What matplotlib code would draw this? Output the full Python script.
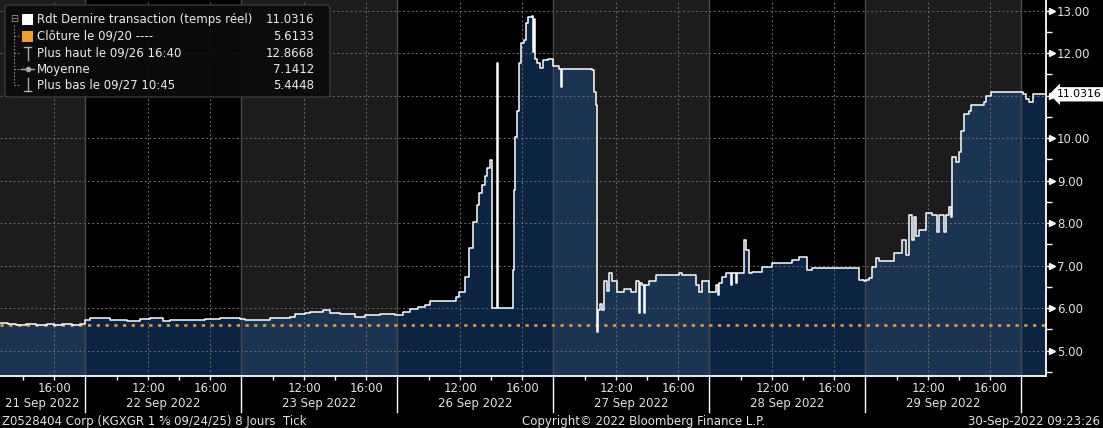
import matplotlib
matplotlib.use('Agg')
import matplotlib.pyplot as plt
import matplotlib.transforms as mtransforms
from matplotlib.patches import Rectangle, FancyBboxPatch
import numpy as np

# --- données (rendement, ticks par séance) ---
days = ['21 Sep 2022', '22 Sep 2022', '23 Sep 2022', '26 Sep 2022',
        '27 Sep 2022', '28 Sep 2022', '29 Sep 2022', '30 Sep 2022']

t21 = ['12:20', '13:00', '13:30', '14:10', '14:50', '15:30', '16:00', '16:30', '17:10', '17:40']
v21 = [5.65, 5.63, 5.61, 5.63, 5.61, 5.62, 5.60, 5.62, 5.61, 5.62]

t22 = ['07:55', '08:13', '08:52', '09:31', '10:37', '11:27', '12:06', '12:56', '13:23', '14:02',
       '15:19', '15:38', '16:36', '17:54']
v22 = [5.72, 5.77, 5.76, 5.73, 5.70, 5.75, 5.76, 5.70, 5.72, 5.73, 5.73, 5.75, 5.76, 5.75]

t23 = ['07:55', '08:10', '09:46', '11:04', '11:23', '12:02', '12:21', '13:11', '13:38', '14:17',
       '15:15', '15:54', '16:52', '17:50']
v23 = [5.75, 5.73, 5.77, 5.79, 5.86, 5.88, 5.92, 5.96, 5.88, 5.86, 5.80, 5.85, 5.86, 5.83]

t26 = ['07:55', '08:17', '08:44', '09:15', '09:42', '10:02', '11:00', '11:38', '11:42', '11:54',
       '12:17', '12:33', '12:48', '13:04', '13:11', '13:23', '13:35', '13:45', '13:54', '14:02',
       '14:17', '14:21', '14:25', '15:20', '15:24', '15:28', '15:31', '15:39', '15:47', '15:55',
       '16:07', '16:15', '16:22', '16:38', '16:42', '16:46', '16:50', '16:58', '17:10', '17:22', '17:41']
v26 = [5.84, 5.90, 5.98, 6.02, 6.08, 6.16, 6.18, 6.16, 6.27, 6.39,
       6.74, 7.42, 8.03, 8.43, 8.70, 8.90, 9.10, 9.30, 9.48, 6.00,
       6.00, 11.76, 6.00, 6.00, 6.90, 8.78, 10.03, 10.65, 11.76, 12.23,
       12.30, 12.70, 12.85, 12.8668, 12.02, 12.80, 11.87, 11.76, 11.64, 11.83, 11.87]

t27 = ['07:55', '08:17', '08:25', '08:29', '09:35', '10:25', '10:33', '10:40', '10:45', '10:48',
       '10:56', '11:04', '11:11', '11:23', '11:31', '11:42', '12:02', '12:30', '12:56', '13:15',
       '13:27', '13:31', '13:38', '13:46', '13:50', '14:06', '14:33', '15:50', '16:02', '16:14',
       '16:53', '17:08', '17:20', '17:31']
v27 = [11.69, 11.63, 11.20, 11.63, 11.62, 11.61, 11.08, 10.77, 5.4448, 5.96,
       6.10, 5.96, 6.63, 6.40, 6.82, 6.63, 6.39, 6.45, 6.39, 6.63,
       5.89, 6.60, 6.55, 5.89, 6.55, 6.63, 6.78, 6.78, 6.83, 6.78,
       6.78, 6.55, 6.39, 6.63]

t28 = ['07:55', '08:21', '08:30', '08:35', '08:44', '09:00', '09:20', '09:25', '09:40', '09:45',
       '10:02', '10:10', '10:17', '10:29', '10:41', '11:19', '11:58', '13:15', '13:42', '14:09',
       '14:13', '14:33', '16:56', '17:35', '17:54']
v28 = [6.39, 6.55, 6.30, 6.60, 6.74, 6.82, 6.55, 6.82, 6.60, 6.82,
       6.82, 7.60, 7.37, 6.82, 6.86, 6.98, 7.06, 7.14, 7.21, 7.21,
       6.90, 6.94, 6.95, 6.67, 6.63]

t29 = ['07:58', '08:09', '08:21', '08:37', '08:48', '09:38', '09:46', '10:06', '10:17', '10:33',
       '10:44', '10:56', '11:04', '11:12', '11:23', '11:50', '12:13', '12:33', '12:40', '13:00',
       '13:07', '13:19', '13:27', '13:31', '13:46', '13:58', '14:06', '14:17', '14:37', '14:44',
       '15:23', '15:35', '15:42', '16:02']
v29 = [6.67, 6.72, 6.98, 7.18, 7.10, 7.10, 7.29, 7.29, 7.60, 7.25,
       8.19, 7.60, 8.15, 7.70, 7.84, 8.23, 8.20, 7.80, 8.20, 7.80,
       8.20, 8.39, 8.15, 9.56, 9.44, 9.67, 10.18, 10.57, 10.65, 10.77,
       10.77, 10.85, 11.00, 11.08]

t30 = ['07:55', '08:02', '08:13', '08:25', '08:40', '09:19', '09:31']
v30 = [11.08, 11.05, 10.93, 10.85, 11.05, 11.03, 11.0316]

times = [t21, t22, t23, t26, t27, t28, t29, t30]
values = [v21, v22, v23, v26, v27, v28, v29, v30]

last = 11.0316
close_0920 = 5.6133
legend_rows = [('Rdt Dernire transaction (temps réel)', '11.0316'),
               ('Clôture le 09/20 ----', '5.6133'),
               ('Plus haut le 09/26 16:40', '12.8668'),
               ('Moyenne', '7.1412'),
               ('Plus bas le 09/27 10:45', '5.4448')]
yticks = [5, 6, 7, 8, 9, 10, 11, 12, 13]
label_hours = [12, 16]
minor_hours = [10, 14]

# --- axe du temps "séances" (heures de bourse mises bout à bout) ---
OPEN, SESSION = 7.92, 10.06
PX_H = 156 / SESSION  # pixels par heure


def to_x(day_i, hhmm):
    h, m = hhmm.split(':')
    return day_i * SESSION + int(h) + int(m) / 60 - OPEN


xs, ys = [], []
for i, (tt, vv) in enumerate(zip(times, values)):
    for t, v in zip(tt, vv):
        xs.append(to_x(i, t))
        ys.append(v)

xlo = SESSION - 85 / PX_H
xhi = xlo + 1046 / PX_H
xs.append(xhi)
ys.append(ys[-1])
ylo, yhi = 4.405, 13.25

W, H = 1103, 428
fig = plt.figure(figsize=(W / 100, H / 100), dpi=100, facecolor='black')
ax = fig.add_axes([0, 52 / H, 1046 / W, 376 / H])
ax.set_facecolor('black')

# bandes par séance
for i in range(len(days)):
    ax.axvspan(i * SESSION, (i + 1) * SESSION, color='#1c1c1c' if i % 2 == 0 else '#000000',
               lw=0, zorder=0)

ax.fill_between(xs, ys, ylo, step='post', color='#19579f', alpha=0.42, lw=0, zorder=1)

# grille
for v in yticks:
    ax.axhline(v, color='#6e6e6e', ls=(0, (2, 2.5)), lw=0.7, zorder=2)
for i in range(len(days)):
    for hh in label_hours:
        ax.axvline(i * SESSION + hh - OPEN, color='#6e6e6e', ls=(0, (2, 2.5)), lw=0.7, zorder=2)
    if i > 0:
        ax.axvline(i * SESSION, color='#4a4a4a', lw=1.0, zorder=2)

ax.axhline(close_0920, color='#e8a33d', ls=(0, (1.3, 2.2)), lw=1.8, zorder=3)
ax.step(xs, ys, where='post', color='white', lw=1.1, zorder=4)

for s in ['top', 'left']:
    ax.spines[s].set_visible(False)
for s in ['bottom', 'right']:
    ax.spines[s].set_color('white')
    ax.spines[s].set_linewidth(1.3)

# axe Y à droite (le libellé 11.00 est caché par l'étiquette du dernier cours)
ax.yaxis.tick_right()
ax.set_yticks(yticks)
ax.set_yticklabels(['' if abs(v - last) < 0.3 else f'{v:.2f}' for v in yticks])
ax.set_yticks(np.arange(4.5, 13.0, 1.0), minor=True)
ax.tick_params(axis='y', which='major', length=4, width=1, color='white', pad=4,
               labelcolor='#e2e2e2', labelsize=8.5)
ax.tick_params(axis='y', which='minor', length=4, width=1, color='white')
ty = mtransforms.blended_transform_factory(ax.transAxes, ax.transData)
ax.plot([1 + 6 / 1046] * len(yticks), yticks, ls='none', marker='>', ms=5, color='white',
        transform=ty, clip_on=False, zorder=6)
ax.text(1 + 11 / 1046, last, f'{last:.4f}', transform=ty, ha='left', va='center',
        fontsize=7.8, color='black', zorder=7,
        bbox=dict(boxstyle='larrow,pad=0.2', fc='white', ec='none'))

# axe X : heures + dates
maj, lab, mnr = [], [], []
for i in range(len(days)):
    for hh in label_hours:
        maj.append(i * SESSION + hh - OPEN)
        lab.append(f'{hh}:00')
    for hh in minor_hours:
        mnr.append(i * SESSION + hh - OPEN)
ax.set_xticks(maj)
ax.set_xticklabels(lab)
ax.set_xticks(mnr, minor=True)
ax.tick_params(axis='x', which='both', length=3, width=1, color='white', pad=1,
               labelcolor='#e2e2e2', labelsize=8.5)
tx = mtransforms.blended_transform_factory(ax.transData, ax.transAxes)
for i, d in enumerate(days):
    a, b = max(i * SESSION, xlo), min((i + 1) * SESSION, xhi)
    if b - a > 4:
        ax.text((a + b) / 2, -27 / 376, d, transform=tx, ha='center', va='center',
                fontsize=8.5, color='#e2e2e2')
    if i > 0:
        ax.plot([i * SESSION] * 2, [0, -36 / 376], transform=tx, color='white', lw=1,
                clip_on=False)

# les limites en dernier (set_xticks élargit la vue sinon)
ax.set_xlim(xlo, xhi)
ax.set_ylim(ylo, yhi)

# --- surcouche en pixels : légende et pied de page ---
ov = fig.add_axes([0, 0, 1, 1], zorder=10)
ov.set_xlim(0, W)
ov.set_ylim(H, 0)
ov.axis('off')
ov.patch.set_alpha(0)

ov.add_patch(FancyBboxPatch((5, 5), 325, 92, boxstyle='round,pad=0,rounding_size=3',
                            fc='#0b0b0b', ec='#3c3c3c', lw=1, alpha=0.93))
rows_y = [19, 36, 53, 69, 85]
ov.text(14, rows_y[0], '⊟', ha='center', va='center', fontsize=7, color='#9a9a9a')
ov.plot([14, 14], [25, rows_y[-1]], color='#8a8a8a', lw=0.8, ls=(0, (1.5, 1.5)))
for yy in rows_y[1:]:
    ov.plot([14, 20], [yy, yy], color='#8a8a8a', lw=0.8, ls=(0, (1.5, 1.5)))
ov.add_patch(Rectangle((22, rows_y[0] - 5.5), 11, 11, fc='white', ec='none'))
ov.add_patch(Rectangle((22, rows_y[1] - 5.5), 11, 11, fc='#f0a030', ec='none'))
ov.plot([27.5, 27.5], [rows_y[2] - 6, rows_y[2] + 7], color='#aaaaaa', lw=1)
ov.plot([24, 31], [rows_y[2] - 6, rows_y[2] - 6], color='#aaaaaa', lw=1)
ov.plot([21, 34], [rows_y[3], rows_y[3]], color='#aaaaaa', lw=1)
ov.plot([27.5], [rows_y[3]], marker='o', ms=3, color='#aaaaaa')
ov.plot([27.5, 27.5], [rows_y[4] - 7, rows_y[4] + 6], color='#aaaaaa', lw=1)
ov.plot([24, 31], [rows_y[4] + 6, rows_y[4] + 6], color='#aaaaaa', lw=1)
for yy, (name, val) in zip(rows_y, legend_rows):
    ov.text(37, yy, name, ha='left', va='center', fontsize=8.5, color='#ececec')
    ov.text(314, yy, val, ha='right', va='center', fontsize=8.5, color='#ececec')

ov.text(2, 421, 'Z0528404 Corp (KGXGR 1 ⅝ 09/24/25) 8 Jours  Tick', ha='left', va='center',
        fontsize=8.5, color='#e2e2e2')
ov.text(643, 421, 'Copyright© 2022 Bloomberg Finance L.P.', ha='center', va='center',
        fontsize=8.5, color='#e2e2e2')
ov.text(1100, 421, '30-Sep-2022 09:23:26', ha='right', va='center', fontsize=8.5,
        color='#e2e2e2')

fig.savefig('out.png', dpi=100, facecolor='black')
